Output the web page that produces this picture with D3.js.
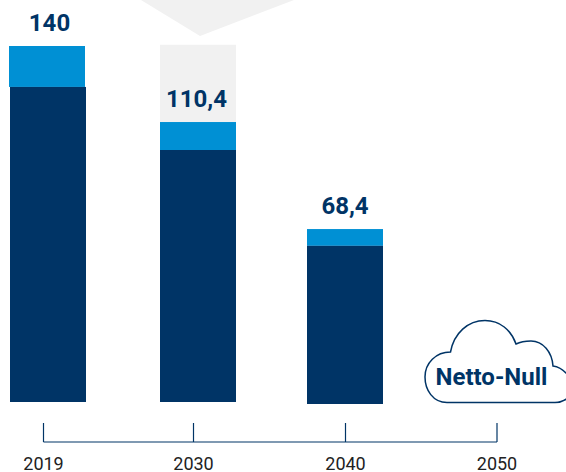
<!DOCTYPE html>
<html lang="de">
  <head>
    <meta charset="UTF-8" />
    <title>Netto-Null</title>
    <script src="https://d3js.org/d3.v7.min.js"></script>
    <style>
      html, body { margin: 0; padding: 0; background: #fff; overflow: hidden; }
      svg { display: block; font-family: Roboto, sans-serif; }
    </style>
  </head>
  <body>
    <script>
      const years = ["2019", "2030", "2040", "2050"];
      const barYears = ["2019", "2030", "2040"];
      const darkValues = [123.9, 99.1, 62.2];
      const lightValues = [16.1, 11.0, 6.6];
      const totalLabels = ["140", "110,4", "68,4"];
      const gapYear = "2030";
      const gapValue = 30;

      const width = 566;
      const height = 472;
      const navy = "#003466";
      const blue = "#0090d4";
      const gray = "#f1f1f1";
      const barWidth = 76;

      const svg = d3.select("body").append("svg")
        .attr("width", width)
        .attr("height", height);

      // bars are not evenly spaced in the original, neither are the ticks
      const barX = d3.scaleOrdinal().domain(barYears).range([10, 160, 307]);
      const axisX = d3.scaleOrdinal().domain(years).range([43.5, 193.5, 345.5, 497]);
      const baseline = d3.scaleOrdinal().domain(barYears).range([402, 402, 404]);
      const labelShift = d3.scaleOrdinal().domain(barYears).range([1.5, -1.5, 0]);
      const h = d3.scaleLinear().domain([0, 140]).range([0, 356]);

      // grey arrow at the top, over the 2030 column
      svg.append("polygon")
        .attr("points", "141,0 200,36 294,0")
        .attr("fill", gray);

      const rows = barYears.map((year, i) => ({
        year: year,
        dark: darkValues[i],
        light: lightValues[i],
        label: totalLabels[i]
      }));

      // gap between 2019 level and 2030 level
      const gapBottom = baseline(gapYear) - h(darkValues[1] + lightValues[1]);
      svg.append("rect")
        .attr("x", barX(gapYear))
        .attr("y", gapBottom - h(gapValue) - 1)
        .attr("width", barWidth)
        .attr("height", h(gapValue) + 1)
        .attr("fill", gray);

      svg.selectAll(".light").data(rows).enter().append("rect")
        .attr("class", "light")
        .attr("x", d => barX(d.year) - (d.year === "2019" ? 1 : 0))
        .attr("y", d => baseline(d.year) - h(d.dark + d.light))
        .attr("width", barWidth)
        .attr("height", d => h(d.light))
        .attr("fill", blue);

      svg.selectAll(".dark").data(rows).enter().append("rect")
        .attr("class", "dark")
        .attr("x", d => barX(d.year))
        .attr("y", d => baseline(d.year) - h(d.dark))
        .attr("width", barWidth)
        .attr("height", d => h(d.dark))
        .attr("fill", navy);

      svg.selectAll(".total").data(rows).enter().append("text")
        .attr("class", "total")
        .attr("x", d => barX(d.year) + barWidth / 2 + labelShift(d.year))
        .attr("y", d => baseline(d.year) - h(d.dark + d.light) - 15)
        .attr("text-anchor", "middle")
        .attr("font-size", 24)
        .attr("font-weight", 700)
        .attr("fill", navy)
        .text(d => d.label);

      // axis, ticks point up from the line
      const axis = svg.append("g")
        .attr("transform", "translate(0,442)")
        .call(d3.axisBottom(axisX).tickValues(years).tickSizeInner(-19).tickSizeOuter(0).tickPadding(15).offset(0));
      axis.selectAll("path, line").attr("stroke", navy).attr("stroke-width", 1.2);
      axis.selectAll("text")
        .attr("font-size", 18)
        .attr("font-family", "Roboto, sans-serif")
        .attr("fill", "#222");

      // cloud
      svg.append("path")
        .attr("d", "M555,402.5 L447,402.5 C433,402.5 425,390 425,377 C425,363 436,352 450.5,352 C454,333 468,320.5 485,320.5 C500,320.5 511,330 516,344 C521,341.5 526,341 531,341 C543,341 552,352 553,366 C560,367 566,372 570,378 L570,396 C566,400 561,402.5 555,402.5")
        .attr("fill", "#fff")
        .attr("stroke", navy)
        .attr("stroke-width", 1.5);

      svg.append("text")
        .attr("x", 491.5)
        .attr("y", 385)
        .attr("text-anchor", "middle")
        .attr("font-size", 24)
        .attr("font-weight", 700)
        .attr("fill", navy)
        .text("Netto-Null");
    </script>
  </body>
</html>
